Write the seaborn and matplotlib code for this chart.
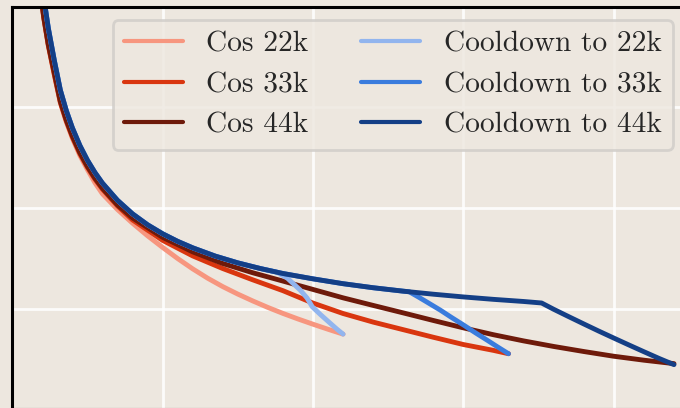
import pandas as pd
import matplotlib
matplotlib.use("Agg")
import matplotlib.pyplot as plt
import seaborn as sns

# Training step (thousands) and validation loss for each schedule
cos22_steps = [1.5, 1.8, 2.1, 2.4, 2.8, 3.2, 3.6, 4.0, 4.5, 5.0, 5.5, 6.0, 7.0, 8.0, 9.0,
               10, 11, 12, 13, 14, 15, 16, 17, 18, 19, 20, 21, 22]
cos22_loss = [3.572, 3.522, 3.488, 3.461, 3.432, 3.404, 3.385, 3.369, 3.352, 3.338, 3.3250,
              3.3140, 3.2985, 3.2850, 3.2725, 3.2610, 3.2500, 3.2398, 3.2305, 3.2222,
              3.2148, 3.2080, 3.2016, 3.1957, 3.1902, 3.1850, 3.1800, 3.1752]

cos33_steps = [1.5, 1.8, 2.1, 2.4, 2.8, 3.2, 3.6, 4.0, 4.5, 5.0, 5.5, 6.0, 7.0, 8.0, 10,
               12, 14, 16, 18, 20, 22, 24, 26, 28, 30, 31, 32, 33]
cos33_loss = [3.572, 3.522, 3.488, 3.461, 3.432, 3.4047, 3.386, 3.3703, 3.3538, 3.3403,
              3.3286, 3.3186, 3.3021, 3.2882, 3.2680, 3.2526, 3.2401, 3.2289, 3.2182,
              3.2059, 3.1956, 3.1871, 3.1796, 3.1721, 3.1649, 3.1620, 3.1591, 3.1558]

cos44_steps = [1.5, 1.8, 2.1, 2.4, 2.8, 3.2, 3.6, 4.0, 4.5, 5.0, 5.5, 6.0, 7.0, 8.0, 10,
               12, 14, 16, 18, 20, 22, 24, 26, 28, 30, 32, 34, 36, 38, 40, 42, 44]
cos44_loss = [3.573, 3.523, 3.489, 3.462, 3.434, 3.4057, 3.387, 3.3713, 3.3548, 3.3413,
              3.3296, 3.3196, 3.3031, 3.2902, 3.2710, 3.2566, 3.2451, 3.2359, 3.2277,
              3.2194, 3.2111, 3.2036, 3.1962, 3.1887, 3.1814, 3.1746, 3.1685, 3.1630,
              3.1580, 3.1533, 3.1494, 3.1460]

# Constant learning-rate phase shared by the cooldown runs
const_steps = [1.5, 1.8, 2.1, 2.4, 2.8, 3.2, 3.6, 4.0, 4.5, 5.0, 5.5, 6.0, 7.0, 8.0, 9.0,
               10, 11, 12, 13.5, 15, 16.5, 17.6, 18, 20, 22, 24, 26, 26.4, 28, 30, 32,
               34, 35.2]
const_loss = [3.598, 3.545, 3.508, 3.478, 3.446, 3.4167, 3.3962, 3.3793, 3.3618, 3.3473,
              3.3351, 3.3246, 3.3076, 3.2942, 3.2834, 3.2745, 3.2670, 3.2606, 3.2524,
              3.2457, 3.2401, 3.2365, 3.2352, 3.2299, 3.2251, 3.2211, 3.2177, 3.2171,
              3.2147, 3.2120, 3.2096, 3.2075, 3.2060]

# Cooldown segments that branch off the constant phase
cd22_steps = [18.3, 19.15, 19.6, 19.95, 20.5, 21.15, 21.6, 22.0]
cd22_loss = [3.2305, 3.2188, 3.2110, 3.2023, 3.1945, 3.1859, 3.1800, 3.1752]
cd33_steps = [27.0, 27.7, 28.46, 29.2, 30.01, 30.8, 31.57, 32.3, 33.0]
cd33_loss = [3.2120, 3.2058, 3.1990, 3.1918, 3.1842, 3.1765, 3.1693, 3.1623, 3.1558]
cd44_steps = [36.0, 37.0, 38.0, 39.0, 40.0, 41.0, 42.0, 43.0, 44.0]
cd44_loss = [3.1998, 3.1925, 3.1853, 3.1782, 3.1713, 3.1645, 3.1578, 3.1512, 3.1450]

labels = ["Cos 22k", "Cos 33k", "Cos 44k",
          "Cooldown to 22k", "Cooldown to 33k", "Cooldown to 44k"]
colors = ["#F7967F", "#D9360F", "#6E1A0A", "#92B5EE", "#3A7CDD", "#143F86"]


def cooldown_run(branch, seg_steps, seg_loss):
    keep = [i for i, s in enumerate(const_steps) if s <= branch]
    steps = [const_steps[i] for i in keep] + list(seg_steps)
    loss = [const_loss[i] for i in keep] + list(seg_loss)
    return steps, loss


runs = {
    labels[0]: (cos22_steps, cos22_loss),
    labels[1]: (cos33_steps, cos33_loss),
    labels[2]: (cos44_steps, cos44_loss),
    labels[3]: cooldown_run(17.6, cd22_steps, cd22_loss),
    labels[4]: cooldown_run(26.4, cd33_steps, cd33_loss),
    labels[5]: cooldown_run(35.2, cd44_steps, cd44_loss),
}

frames = [pd.DataFrame({"step": s, "loss": l, "run": name})
          for name, (s, l) in runs.items()]
df = pd.concat(frames, ignore_index=True)

bg = "#EDE7DF"
sns.set_theme(style="darkgrid")
plt.rcParams.update({
    "figure.facecolor": bg,
    "axes.facecolor": bg,
    "grid.color": "white",
    "grid.linewidth": 2.0,
    "grid.alpha": 0.85,
    "axes.formatter.use_mathtext": True,
})

fig = plt.figure(figsize=(6.8, 4.08), dpi=100)
ax = fig.add_axes([12.2 / 680, -0.5 / 408, 46 * 15.04 / 680, 401.2 / 408])

sns.lineplot(data=df, x="step", y="loss", hue="run", hue_order=labels,
             palette=colors, linewidth=3.5, sort=False, estimator=None,
             solid_capstyle="round", solid_joinstyle="round", ax=ax)

ax.set_xlim(0, 46)
ax.set_ylim(3.1016, 3.4986)
ax.set_xticks([10, 20, 30, 40])
ax.set_yticks([3.2, 3.3, 3.4])
ax.tick_params(length=0, labelbottom=False, labelleft=False)
ax.set_xlabel("")
ax.set_ylabel("")
for side in ["left", "top", "bottom", "right"]:
    ax.spines[side].set_visible(True)
    ax.spines[side].set_color("black")
    ax.spines[side].set_linewidth(2.2)

sns.move_legend(ax, "upper right", bbox_to_anchor=(673 / 680, 1 - 20 / 408),
                bbox_transform=fig.transFigure, borderaxespad=0, ncol=2,
                title=None, frameon=True, fancybox=True,
                prop={"family": "cmr10", "size": 21.2},
                handlelength=2.0, handletextpad=0.8, columnspacing=1.8,
                labelspacing=0.47, borderpad=0.38, framealpha=0.8)
leg = ax.get_legend()
leg.get_frame().set_edgecolor("#CFCCC8")
leg.get_frame().set_linewidth(2.0)
leg.get_frame().set_facecolor(bg)
for h in leg.legend_handles:
    h.set_linewidth(3.0)
    h.set_solid_capstyle("round")

fig.savefig("out.png", dpi=100, facecolor=bg)
